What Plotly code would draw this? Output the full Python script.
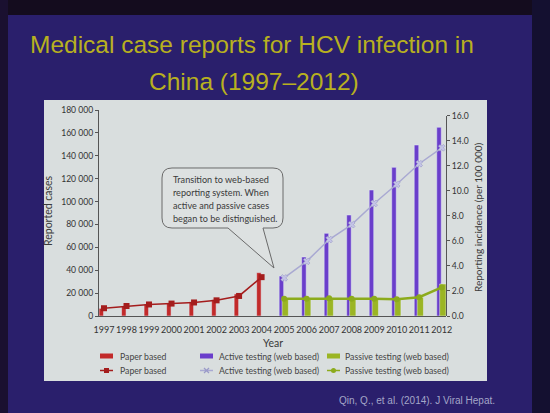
import plotly.graph_objects as go

# ---------------- data ----------------
paper_years = [1997, 1998, 1999, 2000, 2001, 2002, 2003, 2004]
paper_cases = [6700, 8700, 10200, 11000, 12500, 14400, 19300, 37900]
paper_incidence = [0.62, 0.80, 0.92, 0.99, 1.08, 1.25, 1.60, 3.10]

web_years = [2005, 2006, 2007, 2008, 2009, 2010, 2011, 2012]
active_cases = [34950, 51550, 72250, 88250, 110100, 129900, 149400, 164900]
active_incidence = [3.04, 4.36, 6.10, 7.29, 8.98, 10.51, 12.15, 13.42]
passive_cases = [15200, 15000, 16000, 15300, 15400, 14900, 16300, 28000]
passive_incidence = [1.37, 1.37, 1.42, 1.38, 1.38, 1.33, 1.50, 2.28]

year_ticks = list(range(1997, 2013))
left_tickvals = [0, 20000, 40000, 60000, 80000, 100000, 120000, 140000, 160000, 180000]
left_ticktext = ["0", "20 000", "40 000", "60 000", "80 000", "100 000",
                 "120 000", "140 000", "160 000", "180 000"]
right_tickvals = [0, 2, 4, 6, 8, 10, 12, 14, 16]
right_ticktext = ["0.0", "2.0", "4.0", "6.0", "8.0", "10.0", "12.0", "14.0", "16.0"]

title_lines = ["Medical case reports for HCV infection in", "China (1997\u20132012)"]
callout_lines = ["Transition to web-based", "reporting system. When",
                 "active and passive cases", "began to be distinguished."]
legend_labels = ["Paper based", "Active testing (web based)", "Passive testing (web based)"]
citation = "Qin, Q., et al. (2014). J Viral Hepat."

# ---------------- styling ----------------
RED = "#c22a2a"
RED_LINE = "#a41d1d"
PURPLE = "#6a3ecb"
LAV = "#a9a9d2"
GREEN = "#9bb524"
GREEN_LINE = "#8cab1c"
FONT = "Lato"
TXT = "#3a3a3a"

W, H = 550, 413
PL, PR, PT, PB = 99, 446, 110, 316


def X(px):
    return (px - PL) / (PR - PL)


def Y(py):
    return (PB - py) / (PB - PT)


fig = go.Figure()

# bars
fig.add_trace(go.Bar(x=paper_years, y=paper_cases, marker_color=RED, offset=-0.22, width=0.2,
                     name="Paper based", showlegend=False, yaxis="y"))
fig.add_trace(go.Bar(x=web_years, y=active_cases, marker_color=PURPLE, offset=-0.22, width=0.2,
                     name="Active testing (web based)", showlegend=False, yaxis="y"))
fig.add_trace(go.Bar(x=web_years, y=passive_cases, marker_color=GREEN, offset=-0.09, width=0.28,
                     name="Passive testing (web based)", showlegend=False, yaxis="y"))

# lines (incidence, right axis)
fig.add_trace(go.Scatter(x=paper_years, y=paper_incidence, mode="lines+markers",
                         line=dict(color=RED_LINE, width=1.5),
                         marker=dict(symbol="square", size=6, color=RED_LINE),
                         showlegend=False, yaxis="y2", xaxis="x"))
fig.add_trace(go.Scatter(x=web_years, y=active_incidence, mode="lines+markers",
                         line=dict(color=LAV, width=1.5),
                         marker=dict(symbol="x", size=6, color="#c4c4e6",
                                     line=dict(color="#9090c0", width=0.5)),
                         showlegend=False, yaxis="y2", xaxis="x"))
fig.add_trace(go.Scatter(x=web_years, y=passive_incidence, mode="lines+markers",
                         line=dict(color=GREEN_LINE, width=2.5),
                         marker=dict(symbol="circle", size=6, color=GREEN_LINE),
                         showlegend=False, yaxis="y2", xaxis="x"))

shapes = []
# slide background pieces
shapes.append(dict(type="rect", xref="paper", yref="paper", x0=X(0), x1=X(W), y0=Y(0), y1=Y(15),
                   fillcolor="#140c1e", line_width=0, layer="below"))
shapes.append(dict(type="rect", xref="paper", yref="paper", x0=X(0), x1=X(8), y0=Y(0), y1=Y(H),
                   fillcolor="#1a1030", line_width=0, layer="below"))
shapes.append(dict(type="rect", xref="paper", yref="paper", x0=X(532), x1=X(W), y0=Y(0), y1=Y(H),
                   fillcolor="#141030", line_width=0, layer="below"))
# chart panel
shapes.append(dict(type="rect", xref="paper", yref="paper", x0=X(44), x1=X(487), y0=Y(100), y1=Y(381),
                   fillcolor="#d9dede", line_width=0, layer="below"))

# callout bubble
x0, x1, y0, y1, r = 162, 283, 168, 228, 10


def P(a, b):
    return f"{X(a):.5f},{Y(b):.5f}"


path = (f"M {P(x0 + r, y0)} L {P(x1 - r, y0)} Q {P(x1, y0)} {P(x1, y0 + r)} "
        f"L {P(x1, y1 - r)} Q {P(x1, y1)} {P(x1 - r, y1)} L {P(263, y1)} L {P(274, 268)} "
        f"L {P(228, y1)} L {P(x0 + r, y1)} Q {P(x0, y1)} {P(x0, y1 - r)} "
        f"L {P(x0, y0 + r)} Q {P(x0, y0)} {P(x0 + r, y0)} Z")
shapes.append(dict(type="path", xref="paper", yref="paper", path=path,
                   fillcolor="#dde1e1", line=dict(color="#6a6a6a", width=1)))

# legend symbols
col_x = [100, 200, 327]
row_y = [356, 370.5]
bar_cols = [RED, PURPLE, GREEN]
line_cols = [RED_LINE, LAV, GREEN_LINE]
for cx, c in zip(col_x, bar_cols):
    shapes.append(dict(type="rect", xref="paper", yref="paper", x0=X(cx), x1=X(cx + 13),
                       y0=Y(row_y[0] + 2.5), y1=Y(row_y[0] - 2.5), fillcolor=c, line_width=0))
for i, (cx, c) in enumerate(zip(col_x, line_cols)):
    shapes.append(dict(type="line", xref="paper", yref="paper", x0=X(cx), x1=X(cx + 13),
                       y0=Y(row_y[1]), y1=Y(row_y[1]), line=dict(color=c, width=1.5)))
    mx = cx + 6.5
    if i == 0:
        shapes.append(dict(type="rect", xref="paper", yref="paper", x0=X(mx - 2.5), x1=X(mx + 2.5),
                           y0=Y(row_y[1] + 2.5), y1=Y(row_y[1] - 2.5), fillcolor=c, line_width=0))
    elif i == 1:
        for d in (1, -1):
            shapes.append(dict(type="line", xref="paper", yref="paper", x0=X(mx - 2.5), x1=X(mx + 2.5),
                               y0=Y(row_y[1] + 2.5 * d), y1=Y(row_y[1] - 2.5 * d),
                               line=dict(color="#9a9ac8", width=1.2)))
    else:
        shapes.append(dict(type="circle", xref="paper", yref="paper", x0=X(mx - 2.5), x1=X(mx + 2.5),
                           y0=Y(row_y[1] + 2.5), y1=Y(row_y[1] - 2.5), fillcolor=c, line_width=0))

annotations = []
# title
annotations.append(dict(text=title_lines[0], xref="paper", yref="paper", x=X(252), y=Y(45),
                        showarrow=False, xanchor="center", yanchor="middle",
                        font=dict(family="Liberation Sans", size=24.5, color="#b8b020")))
annotations.append(dict(text=title_lines[1], xref="paper", yref="paper", x=X(254), y=Y(81),
                        showarrow=False, xanchor="center", yanchor="middle",
                        font=dict(family="Liberation Sans", size=24.5, color="#b8b020")))
# callout text
for t, yy in zip(callout_lines, [179, 192.3, 205.7, 218.3]):
    annotations.append(dict(text=t, xref="paper", yref="paper", x=X(171), y=Y(yy), showarrow=False,
                            xanchor="left", yanchor="middle", font=dict(family=FONT, size=9.1, color=TXT)))
# legend texts
text_x = [118, 217, 343]
for row in row_y:
    for tx, lab in zip(text_x, legend_labels):
        annotations.append(dict(text=lab, xref="paper", yref="paper", x=X(tx), y=Y(row), showarrow=False,
                                xanchor="left", yanchor="middle", font=dict(family=FONT, size=8.7, color="#454545")))
# axis titles
annotations.append(dict(text="Year", xref="paper", yref="paper", x=X(273), y=Y(342.5), showarrow=False,
                        xanchor="center", yanchor="middle", font=dict(family=FONT, size=10.5, color=TXT)))
annotations.append(dict(text="Reported cases", xref="paper", yref="paper", x=X(48), y=Y(211), showarrow=False,
                        textangle=-90, xanchor="center", yanchor="middle",
                        font=dict(family=FONT, size=10.5, color=TXT)))
annotations.append(dict(text="Reporting incidence (per 100 000)", xref="paper", yref="paper", x=X(478),
                        y=Y(217), showarrow=False, textangle=-90, xanchor="center", yanchor="middle",
                        font=dict(family=FONT, size=10, color=TXT)))
# citation
annotations.append(dict(text=citation, xref="paper", yref="paper", x=X(497), y=Y(400), showarrow=False,
                        xanchor="right", yanchor="middle",
                        font=dict(family="Liberation Sans", size=10, color="#a4a6c8")))

axis_font = dict(family=FONT, size=8.6, color="#333333")
fig.update_layout(
    width=W, height=H,
    margin=dict(l=PL, r=W - PR, t=PT, b=H - PB, autoexpand=False),
    paper_bgcolor="#2a1f6c",
    plot_bgcolor="rgba(0,0,0,0)",
    barmode="overlay",
    showlegend=False,
    xaxis=dict(range=[1996.778, 2012.191], tickvals=year_ticks, ticktext=[str(y) for y in year_ticks],
               showgrid=False, zeroline=False, showline=True, linecolor="#555555", linewidth=1,
               ticks="", tickangle=0, ticklabelstandoff=5,
               tickfont=dict(family=FONT, size=9, color="#333333"), anchor="y"),
    yaxis=dict(range=[0, 180000], tickvals=left_tickvals, ticktext=left_ticktext, showgrid=False,
               zeroline=False, showline=True, linecolor="#555555", linewidth=1, ticks="outside",
               ticklen=3, tickcolor="#555555", tickfont=axis_font, anchor="x", domain=[0, 1]),
    yaxis2=dict(range=[0, 16], tickvals=right_tickvals, ticktext=right_ticktext, showgrid=False,
                zeroline=False, showline=True, linecolor="#555555", linewidth=1, ticks="outside",
                ticklen=3, tickcolor="#555555", tickfont=axis_font, side="right", anchor="x",
                domain=[0, (PB - 115.5) / (PB - PT)]),
    shapes=shapes,
    annotations=annotations,
)

fig.write_html("out.html", config={"displayModeBar": False},
               post_script="document.body.style.margin='0';document.body.style.overflow='hidden';")
